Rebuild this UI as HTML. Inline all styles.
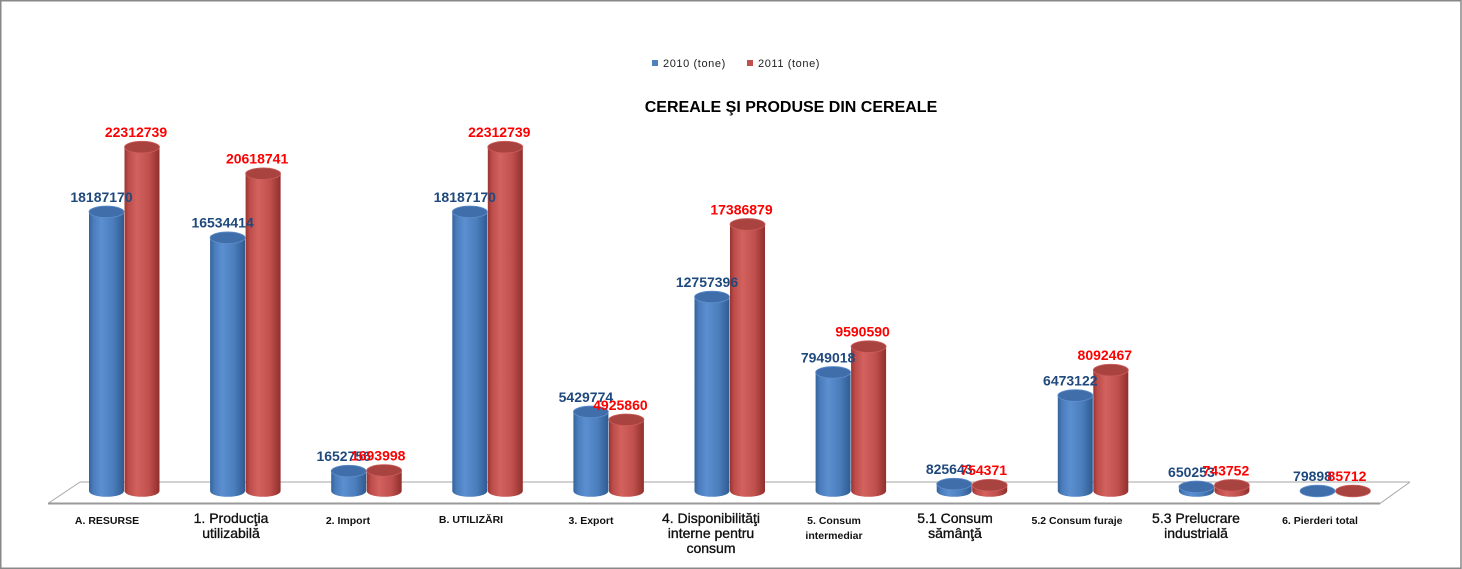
<!DOCTYPE html>
<html><head><meta charset="utf-8"><style>
html,body{margin:0;padding:0;background:#fff;}
svg{display:block;}
.vb{font-family:"Liberation Sans",sans-serif;font-size:14px;font-weight:700;fill:#1f497d;text-anchor:middle;}
.vr{font-family:"Liberation Sans",sans-serif;font-size:14px;font-weight:700;fill:#ff0000;text-anchor:middle;}
.cs{font-family:"Liberation Sans",sans-serif;font-size:10.5px;font-weight:700;fill:#111;text-anchor:middle;}
.cl{font-family:"Liberation Sans",sans-serif;font-size:14px;fill:#111;text-anchor:middle;stroke:#111;stroke-width:0.35px;}
</style></head><body>
<svg width="1462" height="569" viewBox="0 0 1462 569" xmlns="http://www.w3.org/2000/svg">
<defs>
<linearGradient id="gb" x1="0" x2="1" y1="0" y2="0">
<stop offset="0" stop-color="#34629c"/><stop offset="0.12" stop-color="#4a7cbb"/><stop offset="0.35" stop-color="#5b8fd0"/><stop offset="0.7" stop-color="#4a7dbb"/><stop offset="1" stop-color="#2f5a90"/>
</linearGradient>
<linearGradient id="gr" x1="0" x2="1" y1="0" y2="0">
<stop offset="0" stop-color="#9a3431"/><stop offset="0.12" stop-color="#bd4d4a"/><stop offset="0.35" stop-color="#d3625f"/><stop offset="0.7" stop-color="#c0504d"/><stop offset="1" stop-color="#8f2f2c"/>
</linearGradient>
</defs>
<rect x="0.75" y="0.75" width="1460.25" height="567.5" fill="#fff" stroke="#888" stroke-width="1.5"/>
<!-- legend -->
<rect x="652" y="60" width="6" height="6" fill="#4f81bd"/>
<text x="663" y="67" font-family="Liberation Sans, sans-serif" font-size="11" letter-spacing="0.6" fill="#222">2010 (tone)</text>
<rect x="747" y="60" width="6" height="6" fill="#c0504d"/>
<text x="758" y="67" font-family="Liberation Sans, sans-serif" font-size="11" letter-spacing="0.6" fill="#222">2011 (tone)</text>
<!-- title -->
<text x="791" y="112" text-anchor="middle" font-family="Liberation Sans, sans-serif" font-size="16" font-weight="700" fill="#000">CEREALE ŞI PRODUSE DIN CEREALE</text>
<!-- floor -->
<polygon points="80,482 1410,482 1380,503.5 48,503.5" fill="#fff" stroke="none"/>
<line x1="80" y1="482" x2="1410" y2="482" stroke="#a6a6a6" stroke-width="1"/>
<line x1="80" y1="482" x2="48" y2="503.5" stroke="#a6a6a6" stroke-width="1"/>
<line x1="1410" y1="482" x2="1380" y2="503.5" stroke="#a6a6a6" stroke-width="1"/>
<line x1="48" y1="503.5" x2="1380" y2="503.5" stroke="#9a9a9a" stroke-width="2"/>
<g id="bars"></g>
<g id="labels"></g>
<!-- category labels -->
<text class="cs" x="107" y="524">A. RESURSE</text>
<text class="cl" x="231" y="523">1. Producţia</text>
<text class="cl" x="231" y="538">utilizabilă</text>
<text class="cs" x="348" y="524">2. Import</text>
<text class="cs" x="471" y="523">B. UTILIZĂRI</text>
<text class="cs" x="591" y="524">3. Export</text>
<text class="cl" x="711" y="523">4. Disponibilităţi</text>
<text class="cl" x="711" y="538">interne pentru</text>
<text class="cl" x="711" y="553">consum</text>
<text class="cs" x="834" y="524">5. Consum</text>
<text class="cs" x="834" y="539">intermediar</text>
<text class="cl" x="955" y="523">5.1 Consum</text>
<text class="cl" x="955" y="538">sămânţă</text>
<text class="cs" x="1077" y="524">5.2 Consum furaje</text>
<text class="cl" x="1196" y="523">5.3 Prelucrare</text>
<text class="cl" x="1196" y="538">industrială</text>
<text class="cs" x="1320" y="524">6. Pierderi total</text>
</svg>
<script>
(function(){
var data=[[18187170,22312739],[16534414,20618741],[1652756,1693998],[18187170,22312739],[5429774,4925860],[12757396,17386879],[7949018,9590590],[825643,754371],[6473122,8092467],[650253,743752],[79898,85712]];
var ns="http://www.w3.org/2000/svg";
var bars=document.getElementById("bars"),labels=document.getElementById("labels");
var k=15.68,base=497,bot=491,rx=17.5,ry=5.8;
var lb=[],lr=[];
function cyl(cx,top,grad,topFill,rim){
  var x0=cx-rx,x1=cx+rx;
  var p=document.createElementNS(ns,"path");
  p.setAttribute("d","M"+x0+","+top+" L"+x0+","+bot+" A"+rx+","+ry+" 0 0 0 "+x1+","+bot+" L"+x1+","+top+" Z");
  p.setAttribute("fill","url(#"+grad+")");
  bars.appendChild(p);
  var e=document.createElementNS(ns,"ellipse");
  e.setAttribute("cx",cx);e.setAttribute("cy",top);e.setAttribute("rx",rx);e.setAttribute("ry",ry);
  e.setAttribute("fill",topFill);e.setAttribute("stroke",rim);e.setAttribute("stroke-width","0.8");
  bars.appendChild(e);
}
for(var i=0;i<data.length;i++){
  var bl=89+121.1*i;
  var cb=bl+17.5,cr=bl+53;
  var tb=Math.min(bot,base-data[i][0]*k/1e6),tr=Math.min(bot,base-data[i][1]*k/1e6);
  cyl(cb,tb,"gb","#3f6eab","#5f8fcc");
  cyl(cr,tr,"gr","#a94340","#cc5c59");
  lb.push([cb-5,tb-10,data[i][0]]);lr.push([cr-6,tr-10,data[i][1]]);
}
lb.concat(lr).forEach(function(l,j){
  var t=document.createElementNS(ns,"text");
  t.setAttribute("x",l[0]);t.setAttribute("y",l[1]);
  t.setAttribute("class",j<lb.length?"vb":"vr");
  t.setAttribute("font-weight","700");
  t.textContent=String(l[2]);
  labels.appendChild(t);
});
})();
</script>
</body></html>
